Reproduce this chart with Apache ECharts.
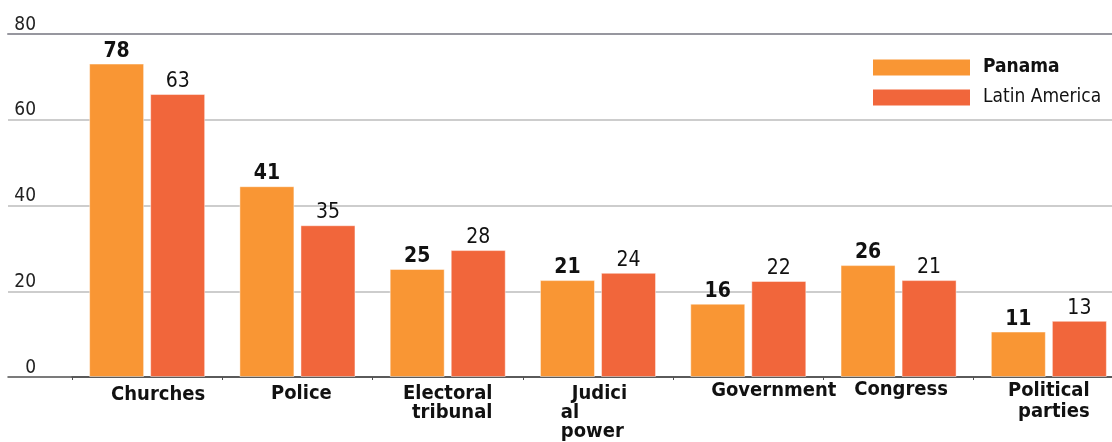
<!DOCTYPE html>
<html>
<head>
<meta charset="utf-8">
<script src="https://cdn.jsdelivr.net/npm/echarts@6/dist/echarts.min.js"></script>
<style>
  html, body { margin: 0; padding: 0; background: #fff; }
  #chart { width: 1112px; height: 442px; }
</style>
</head>
<body>
<div id="chart"></div>
<script>
// ---- data ----
const categories = ['Churches', 'Police', 'Electoral tribunal', 'Judicial power', 'Government', 'Congress', 'Political parties'];
const categoryLines = [['Churches'], ['Police'], ['Electoral', 'tribunal'], ['Judici', 'al', 'power'], ['Government'], ['Congress'], ['Political', 'parties']];
const seriesNames = ['Panama', 'Latin America'];
// bar heights as drawn in the picture
const panamaBars = [73.1, 44.5, 25.2, 22.6, 17.1, 26.1, 10.6];
const latamBars = [66.0, 35.4, 29.6, 24.3, 22.4, 22.6, 13.1];
// value labels printed above the bars
const panamaLabels = ['78', '41', '25', '21', '16', '26', '11'];
const latamLabels = ['63', '35', '28', '24', '22', '21', '13'];
const yTicks = [0, 20, 40, 60, 80];

// ---- styles for category labels (per label line) ----
const lineStyles = [
  [{ lineHeight: 21, padding: [0, 0, 0, 22], align: 'center' }],
  [{ lineHeight: 19, padding: [0, 0, 0, 8], align: 'center' }],
  [{ lineHeight: 19, align: 'right' }, { lineHeight: 19, align: 'right' }],
  [{ lineHeight: 19, align: 'left', padding: [0, 8, 0, 11] }, { lineHeight: 19, align: 'left' }, { lineHeight: 19, align: 'left' }],
  [{ lineHeight: 14, padding: [0, 0, 0, 51], align: 'center' }],
  [{ lineHeight: 12, padding: [0, 0, 0, 5], align: 'center' }],
  [{ lineHeight: 14, align: 'right' }, { lineHeight: 27.6, align: 'right' }]
];
const rich = {};
lineStyles.forEach((ls, i) => ls.forEach((s, j) => { rich['r' + i + '_' + j] = s; }));

const COL_P = '#F99634';
const COL_L = '#F1663B';
const condensed = "'DejaVu Sans Condensed', 'DejaVu Sans', sans-serif";

const chart = echarts.init(document.getElementById('chart'), null, { renderer: 'canvas' });
chart.setOption({
  animation: false,
  backgroundColor: '#fff',
  grid: [
    { left: 8, right: 0, top: 34, bottom: 65, containLabel: false, outerBoundsMode: 'none' },
    { left: 72, width: 1052, top: 34, bottom: 65, containLabel: false, outerBoundsMode: 'none' }
  ],
  legend: {
    orient: 'vertical',
    left: 873,
    top: 58,
    padding: 0,
    itemWidth: 97,
    itemHeight: 16,
    itemGap: 11,
    icon: 'rect',
    itemStyle: { borderWidth: 0 },
    data: seriesNames,
    formatter: name => name === seriesNames[0] ? '{b|' + name + '}' : '{n|' + name + '}',
    textStyle: {
      fontFamily: condensed,
      fontSize: 19,
      color: '#111',
      rich: {
        b: { fontFamily: condensed, fontSize: 19, fontWeight: 'bold', color: '#111', padding: [0, 0, 0, 8] },
        n: { fontFamily: condensed, fontSize: 19, color: '#111', padding: [0, 0, 0, 8] }
      }
    }
  },
  xAxis: [
    {
      gridIndex: 0, type: 'value', position: 'bottom', min: 0, max: 1,
      axisLine: { show: true, onZero: false, lineStyle: { color: '#505050', width: 1.5 } },
      axisTick: { show: false }, axisLabel: { show: false }, splitLine: { show: false }
    },
    {
      gridIndex: 0, type: 'value', position: 'top', min: 0, max: 1,
      axisLine: { show: true, onZero: false, lineStyle: { color: '#97979f', width: 2 } },
      axisTick: { show: false }, axisLabel: { show: false }, splitLine: { show: false }
    },
    {
      gridIndex: 1, type: 'category', data: categories, position: 'bottom',
      axisLine: { show: true, onZero: false, lineStyle: { color: '#505050', width: 1.5 } },
      axisTick: { show: true, length: 3, lineStyle: { color: '#505050' } },
      splitLine: { show: false },
      axisLabel: {
        interval: 0,
        margin: 7,
        fontFamily: condensed,
        fontWeight: 'bold',
        fontSize: 20,
        color: '#111',
        lineHeight: 19,
        formatter: (v, i) => categoryLines[i].map((t, j) => '{r' + i + '_' + j + '|' + t + '}').join('\n'),
        rich: rich
      }
    }
  ],
  yAxis: [
    {
      gridIndex: 0, type: 'value', min: yTicks[0], max: yTicks[yTicks.length - 1], interval: 20,
      axisLine: { show: false }, axisTick: { show: false },
      splitLine: { show: true, showMinLine: false, showMaxLine: false, lineStyle: { color: '#bdbdbd', width: 1.5 } },
      axisLabel: {
        margin: -28,
        verticalAlign: 'bottom',
        fontFamily: condensed,
        fontSize: 19,
        lineHeight: 18.5,
        color: '#222'
      }
    },
    {
      gridIndex: 1, type: 'value', min: yTicks[0], max: yTicks[yTicks.length - 1], interval: 20,
      show: false, splitLine: { show: false }
    }
  ],
  series: [
    {
      name: seriesNames[0], type: 'bar', xAxisIndex: 2, yAxisIndex: 1,
      data: panamaBars, barWidth: 55, barGap: '11%',
      itemStyle: { color: COL_P, borderColor: 'rgba(255,255,255,0.45)', borderWidth: 1 },
      label: {
        show: true, position: 'top', distance: 2,
        formatter: p => panamaLabels[p.dataIndex],
        fontFamily: condensed, fontWeight: 'bold', fontSize: 21, color: '#111'
      }
    },
    {
      name: seriesNames[1], type: 'bar', xAxisIndex: 2, yAxisIndex: 1,
      data: latamBars, barWidth: 55, barGap: '11%',
      itemStyle: { color: COL_L, borderColor: 'rgba(255,255,255,0.45)', borderWidth: 1 },
      label: {
        show: true, position: 'top', distance: 2,
        formatter: p => latamLabels[p.dataIndex],
        fontFamily: condensed, fontSize: 21, color: '#111'
      }
    }
  ]
});
</script>
</body>
</html>
